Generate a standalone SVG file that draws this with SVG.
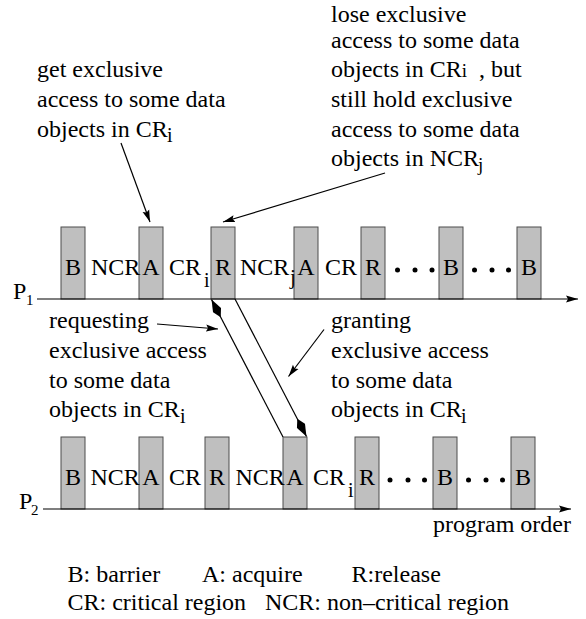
<svg xmlns="http://www.w3.org/2000/svg" width="586" height="619" viewBox="0 0 586 619" font-family="'Liberation Serif', 'Times New Roman', Times, serif" font-size="24">
<style>
text{font-family:'Liberation Serif','Times New Roman',Times,serif;font-size:24px;fill:#000}
.c{text-anchor:middle}
.sub{font-size:20px}
.box{fill:#bfbfbf;stroke:#4d4d4d;stroke-width:1}
.ln{stroke:#000;stroke-width:1.2;fill:none}
.dot{fill:#000}
</style>
<defs>
<marker id="ah" markerUnits="userSpaceOnUse" markerWidth="14" markerHeight="10" refX="12" refY="0" viewBox="0 -5 14 10" orient="auto">
<path d="M0,-3.5 L12,0 L0,3.5 L2,0 z" fill="#000"/>
</marker>
<marker id="kite" markerUnits="userSpaceOnUse" markerWidth="22" markerHeight="12" refX="20" refY="0" viewBox="0 -6 22 12" orient="auto">
<path d="M0,0 L8,-4.5 L20,0 L8,4.5 z" fill="#000"/>
</marker>
</defs>

<g id="p1-boxes">
<rect class="box" x="61" y="227" width="24" height="72"/>
<rect class="box" x="139" y="227" width="24" height="72"/>
<rect class="box" x="211" y="227" width="24" height="72"/>
<rect class="box" x="294" y="227" width="24" height="72"/>
<rect class="box" x="361" y="227" width="24" height="72"/>
<rect class="box" x="439" y="227" width="24" height="72"/>
<rect class="box" x="517" y="227" width="24" height="72"/>
</g>
<g id="p2-boxes">
<rect class="box" x="61" y="437" width="24" height="72"/>
<rect class="box" x="139" y="437" width="24" height="72"/>
<rect class="box" x="205" y="437" width="24" height="72"/>
<rect class="box" x="283" y="437" width="24" height="72"/>
<rect class="box" x="355" y="437" width="24" height="72"/>
<rect class="box" x="433" y="437" width="24" height="72"/>
<rect class="box" x="511" y="437" width="24" height="72"/>
</g>

<g id="p1">
<text x="13" y="299">P</text><text x="26" y="304.5" style="font-size:15px">1</text>
<text class="c" x="73" y="275">B</text>
<text x="91" y="275">NCR</text>
<text class="c" x="151" y="275">A</text>
<text x="169" y="275">CR</text><text class="sub" x="204" y="287">i</text>
<text class="c" x="223" y="275">R</text>
<text x="240" y="275">NCR</text><text x="290" y="284" style="font-size:21px">j</text>
<text class="c" x="306" y="275">A</text>
<text x="325" y="275">CR</text>
<text class="c" x="373" y="275">R</text>
<circle class="dot" cx="397.5" cy="270" r="2.5"/><circle class="dot" cx="415" cy="270" r="2.5"/><circle class="dot" cx="432" cy="270" r="2.5"/>
<text class="c" x="451" y="275">B</text>
<circle class="dot" cx="474.5" cy="270" r="2.5"/><circle class="dot" cx="492" cy="270" r="2.5"/><circle class="dot" cx="508.5" cy="270" r="2.5"/>
<text class="c" x="529" y="275">B</text>
</g>

<g id="p2">
<text x="19" y="509">P</text><text x="31" y="515" style="font-size:15px">2</text>
<text class="c" x="73" y="485">B</text>
<text x="90.5" y="485">NCR</text>
<text class="c" x="151" y="485">A</text>
<text x="169" y="485">CR</text>
<text class="c" x="217" y="485">R</text>
<text x="235.5" y="485">NCR</text>
<text class="c" x="295" y="485">A</text>
<text x="313" y="485">CR</text><text class="sub" x="348" y="497">i</text>
<text class="c" x="367" y="485">R</text>
<circle class="dot" cx="390" cy="480" r="2.5"/><circle class="dot" cx="408" cy="480" r="2.5"/><circle class="dot" cx="424.5" cy="480" r="2.5"/>
<text class="c" x="445" y="485">B</text>
<circle class="dot" cx="468.5" cy="480" r="2.5"/><circle class="dot" cx="486" cy="480" r="2.5"/><circle class="dot" cx="502.5" cy="480" r="2.5"/>
<text class="c" x="523" y="485">B</text>
<text x="433" y="532">program order</text>
</g>

<g id="note-get">
<text x="37" y="77">get exclusive</text>
<text x="37" y="107">access to some data</text>
<text x="37" y="137">objects in CR<tspan class="sub" x="167" y="142">i</tspan></text>
</g>

<g id="note-lose">
<text x="331" y="22">lose exclusive</text>
<text x="331" y="48">access to some data</text>
<text x="331" y="77">objects in CR<tspan style="font-size:19px">i</tspan><tspan x="479">, but</tspan></text>
<text x="331" y="106.5">still hold exclusive</text>
<text x="331" y="136.5">access to some data</text>
<text x="331" y="166">objects in NCR<tspan style="font-size:19px" x="478" y="171">j</tspan></text>
</g>

<g id="note-requesting">
<text x="49" y="328">requesting</text>
<text x="49" y="358">exclusive access</text>
<text x="49" y="387.5">to some data</text>
<text x="49" y="417">objects in CR<tspan class="sub" x="180" y="423">i</tspan></text>
</g>

<g id="note-granting">
<text x="331" y="328">granting</text>
<text x="331" y="358">exclusive access</text>
<text x="331" y="387.5">to some data</text>
<text x="331" y="417">objects in CR<tspan class="sub" x="461" y="423">i</tspan></text>
</g>

<g id="legend">
<text x="67.5" y="582">B: barrier</text>
<text x="202" y="582">A: acquire</text>
<text x="351.5" y="582">R:release</text>
<text x="67.5" y="610">CR: critical region</text>
<text x="265" y="610">NCR: non–critical region</text>
</g>

<g id="connectors">
<line class="ln" x1="37" y1="299" x2="578" y2="299" marker-end="url(#ah)"/>
<line class="ln" x1="43" y1="509" x2="571" y2="509" marker-end="url(#ah)"/>
<line class="ln" x1="283" y1="437" x2="211.5" y2="299.5" marker-end="url(#kite)"/>
<line class="ln" x1="235" y1="299" x2="306.5" y2="436.5" marker-end="url(#kite)"/>
<line class="ln" stroke-width="1" x1="121" y1="143" x2="150" y2="222" marker-end="url(#ah)"/>
<line class="ln" x1="385" y1="173" x2="223" y2="222" marker-end="url(#ah)"/>
<line class="ln" x1="157" y1="324" x2="218" y2="329" marker-end="url(#ah)"/>
<line class="ln" x1="324" y1="329.5" x2="288.5" y2="376.5" marker-end="url(#ah)"/>
</g>
</svg>
